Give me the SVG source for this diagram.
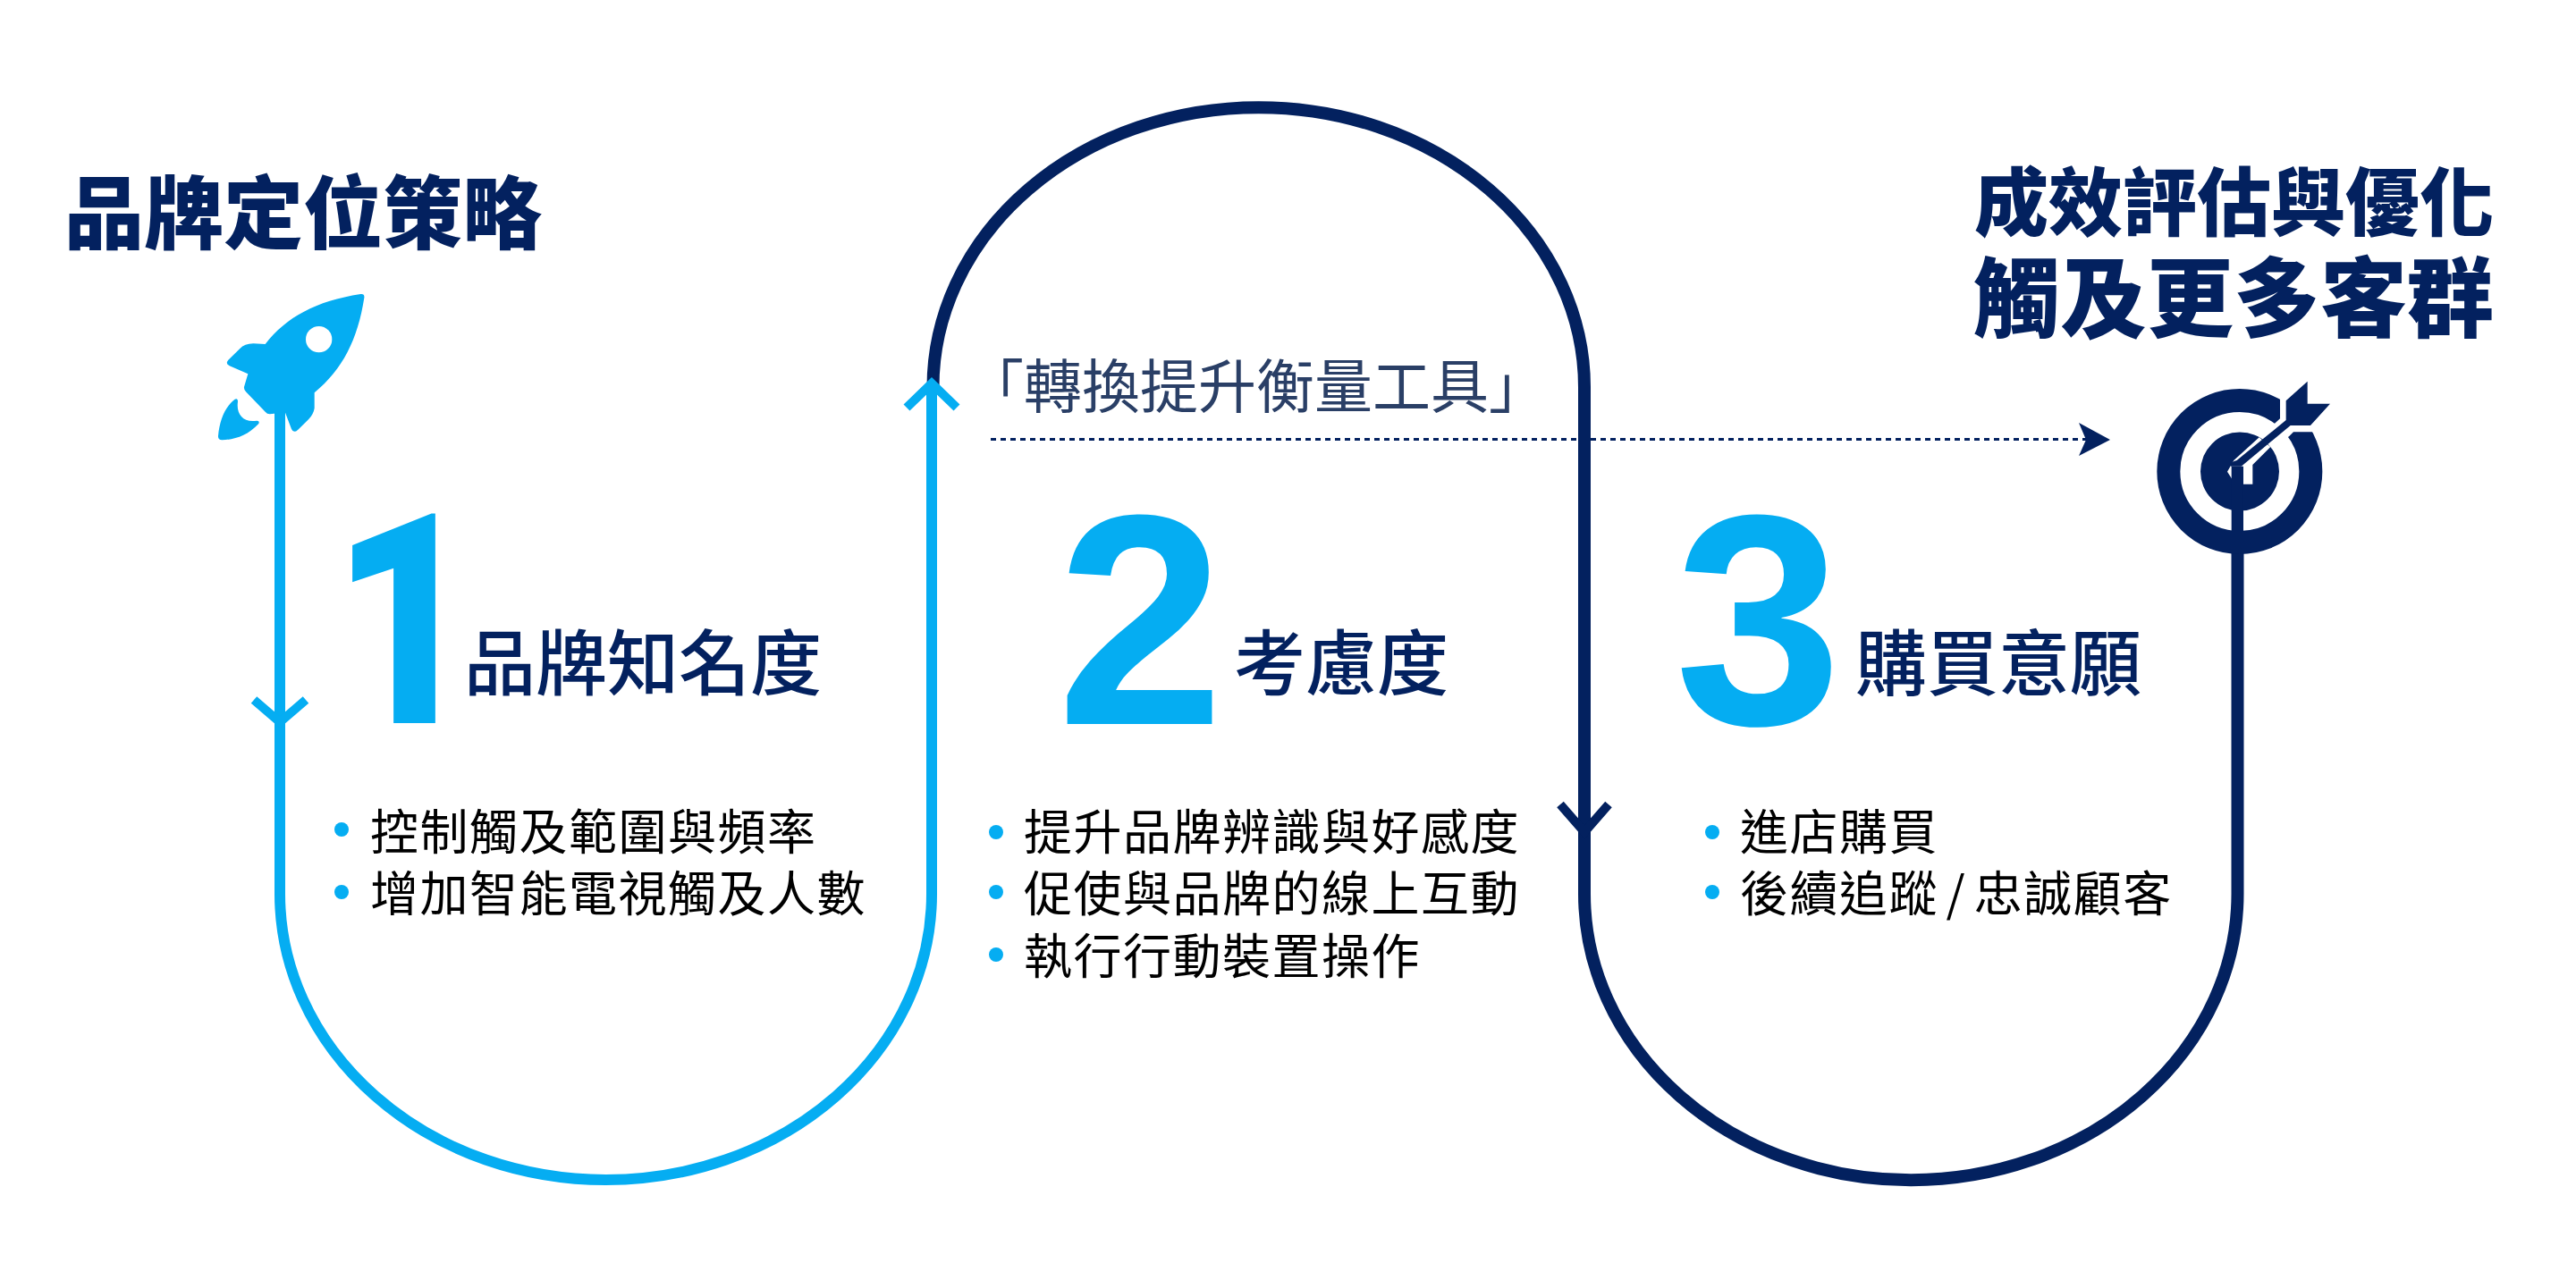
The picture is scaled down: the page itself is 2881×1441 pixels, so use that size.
<svg xmlns="http://www.w3.org/2000/svg" width="2881" height="1441" viewBox="0 0 2881 1441">
<style>
text{font-family:"Noto Sans CJK TC","Noto Sans CJK SC",sans-serif}
.title{font-size:89px;font-weight:900;fill:#03215f}
.title2{font-size:83px;font-weight:900;fill:#03215f}
.title3{font-size:97px;font-weight:900;fill:#03215f}
.head{font-size:80px;font-weight:500;fill:#03215f}
.num{font-family:"Liberation Sans",sans-serif;font-size:336px;font-weight:700;fill:#05adf2}
.num1{font-family:Roboto,"Liberation Sans",sans-serif;font-size:330px;font-weight:900;fill:#05adf2}
.li{font-size:54px;fill:#000;letter-spacing:1.5px}
.dot{fill:#05adf2}
.lb{fill:none;stroke:#05adf2;stroke-width:12}
.db{fill:none;stroke:#03215f;stroke-width:14}
.dk{fill:#03215f}
.wt{fill:#fff}
</style>
<g id="connectors">
<path class="db" d="M1043.500 430V433A364.250 313 0 0 1 1772 433V1000A365 320 0 0 0 2502.500 1000V600"/>
<path class="lb" d="M313 460V1000A364.500 320 0 0 0 1042 1000V430"/>
<path class="lb" style="stroke-width:10" d="M284 783L313 808L342 783M1014 456L1042 429L1070 456"/>
<path class="db" style="stroke-width:10" d="M1745 900L1772 931L1799 900"/>
<path d="M1108 491.500H2340" fill="none" stroke="#03215f" stroke-width="3" stroke-dasharray="6 5"/>
<path d="M2325 473L2360 492L2325 510L2333 492Z" class="dk"/>
</g>
<g id="rocket" transform="translate(200 300) scale(.33333)">
<path class="dot" d="M610 87Q624 85 622 100C600 240 550 340 455 418L455 470Q452 490 435 508L400 542Q385 556 378 540L356 482L320 488L305 490Q296 490 290 482L225 415Q216 405 220 395L232 355L170 328Q155 320 166 308L205 270Q220 254 250 253L290 255C360 165 460 110 610 87Z"/>
<circle cx="470" cy="239" r="44" class="wt"/>
<path class="dot" d="M188 440Q198 436 198 448C192 490 215 520 262 512Q272 512 268 522C230 562 190 575 145 577Q131 577 132 563C137 510 155 465 188 440Z"/>
</g>
<g id="target" transform="translate(2380 400) scale(.33333)">
<circle cx="374.500" cy="382.500" r="238.500" fill="none" stroke="#03215f" stroke-width="78"/>
<path class="wt" d="M510 120V205L330 370L333 420H418L418 350L540 265L555 250H625L720 120Z"/>
<path class="dk" d="M243 382.500a132 132 0 0 0 264 0a132 132 0 0 0 -264 0Z"/>
<path class="wt" d="M440 268L355 345L333 383L360 425H418L418 360L478 300Z"/>
<path class="dk" d="M347 365H387V585H347Z"/>
<path class="dk" d="M530 145L602 80V155H678L612 228H545L380 365H345Q340 352 365 345L530 210Z"/>
</g>
<g id="title-left"><text class="title" x="72" y="271">品牌定位策略</text></g>
<g id="title-right"><text class="title2" x="2208" y="257">成效評估與優化</text><text class="title3" x="2207" y="369">觸及更多客群</text></g>
<g id="label-tool"><text x="1080" y="456" style="font-size:65px;fill:#2a3f66">「轉換提升衡量工具」</text></g>
<g id="step1">
<text class="num1" transform="translate(371 809) scale(.86 1)">1</text>
<text class="head" x="519" y="771">品牌知名度</text>
<circle class="dot" cx="382" cy="928" r="8"/><circle class="dot" cx="382" cy="998" r="8"/>
<text class="li" x="414" y="951">控制觸及範圍與頻率</text>
<text class="li" x="414" y="1020">增加智能電視觸及人數</text>
</g>
<g id="step2">
<text class="num" x="1182" y="810">2</text>
<text class="head" x="1380" y="771">考慮度</text>
<circle class="dot" cx="1114" cy="931" r="8"/><circle class="dot" cx="1114" cy="998" r="8"/><circle class="dot" cx="1114" cy="1068" r="8"/>
<text class="li" x="1145" y="951">提升品牌辨識與好感度</text>
<text class="li" x="1145" y="1020">促使與品牌的線上互動</text>
<text class="li" x="1145" y="1090">執行行動裝置操作</text>
</g>
<g id="step3">
<text class="num" x="1873" y="810">3</text>
<text class="head" x="2075" y="771">購買意願</text>
<circle class="dot" cx="1915" cy="931" r="8"/><circle class="dot" cx="1915" cy="998" r="8"/>
<text class="li" x="1946" y="951">進店購買</text>
<text class="li" x="1946" y="1020" style="word-spacing:-5px">後續追蹤 / 忠誠顧客</text>
</g>
</svg>
